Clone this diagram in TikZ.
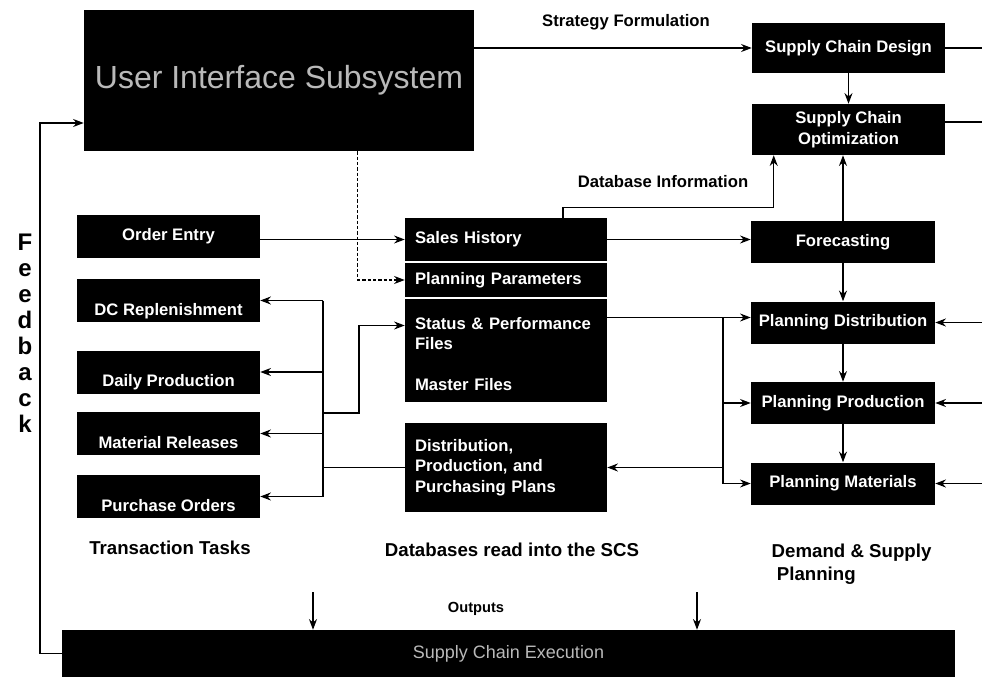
\documentclass[tikz,border=0pt]{standalone}
\usepackage{fontspec}
\setmainfont{Liberation Sans}
\usetikzlibrary{arrows.meta}
\usetikzlibrary{calc}
\newcommand{\boxfont}{\fontsize{12.5}{15.5}\selectfont\bfseries}
\tikzset{box/.style = {fill=black, text=white, font=\boxfont, inner sep=0pt,
                       minimum width=138pt, minimum height=31.5pt},
         leftbox/.style = {box, minimum width=137.25pt, minimum height=32.25pt},
         lowered/.style = {text height=24.8pt, text depth=3pt},
         field/.style = {box, align=left, text width=136.5pt, inner xsep=7.5pt},
         faint/.style = {text=gray!55, font=\fontsize{#1}{#1}\selectfont},
         tag/.style = {font=\boxfont},
         group/.style = {font=\fontsize{14}{17.5}\selectfont\bfseries},
         flow/.style = {-{Stealth[length=8pt,width=6pt]}, line width=0.8pt},
         link/.style = {line width=0.8pt}}
\begin{document}
\begin{tikzpicture}[x=0.75pt, y=-0.75pt]
      \useasboundingbox (0, 0) rectangle (982, 681);

      \node [box, faint=24, minimum width=292.5pt, minimum height=105.75pt] (ui) at (279, 80.5) {User Interface Subsystem};
      \node [box, faint=13.5, minimum width=669.75pt, minimum height=35.25pt] (bar) at (508.5, 653.5) {Supply Chain Execution};

      \node [box, minimum width=144.75pt, minimum height=37.5pt] (scd) at (848.5, 48) {Supply Chain Design};
      \node [box, minimum width=144.75pt, minimum height=38.25pt, align=center] (sco) at (848.5, 129.5) {Supply Chain\\Optimization};
      \node [box] (fc) at (843, 242) {Forecasting};
      \node [box] (pd) at (843, 322.5) {Planning Distribution};
      \node [box] (pp) at (843, 403) {Planning Production};
      \node [box] (pm) at (843, 483.5) {Planning Materials};

      \node [leftbox] (oe) at (168.5, 236.5) {Order Entry};
      \node [leftbox, lowered] (dc) at (168.5, 300.5) {DC Replenishment};
      \node [leftbox, lowered] (dp) at (168.5, 372) {Daily Production};
      \node [leftbox, lowered] (mr) at (168.5, 433.5) {Material Releases};
      \node [leftbox, lowered] (po) at (168.5, 496.5) {Purchase Orders};

      \node [field, minimum height=32.25pt] (sales) at (506, 239.5) {Sales History};
      \node [field, minimum height=25.5pt] (params) at (506, 280) {Planning Parameters};
      \node [field, minimum height=51.75pt] (status) at (506, 333.5) {Status \& Performance\\Files};
      \node [field, minimum height=25.5pt] (master) at (506, 385) {Master Files};
      \node [field, minimum height=66.75pt] (plans) at (506, 467.5) {Distribution,\\Production, and\\Purchasing Plans};

      \node [tag] (strat) at (626, 22) {Strategy Formulation};
      \node [tag] (dbinfo) at (663, 182) {Database Information};
      \node [font=\fontsize{11}{13}\selectfont\bfseries] (outputs) at (476, 609) {Outputs};
      \node [group] (trans) at (170, 548) {Transaction Tasks};
      \node [group] (dbs) at (512, 550) {Databases read into the SCS};
      \node [group, align=left, anchor=west] (dsp) at (767, 564) {Demand \& Supply\\\ Planning};
      \node [font=\fontsize{18}{19.5}\selectfont\bfseries, align=center] (fb) at (25, 333) {F\\e\\e\\d\\b\\a\\c\\k};

      \coordinate (busL) at (323, 0);
      \coordinate (busR) at (723, 0);
      \coordinate (tap) at (323, 413);
      \coordinate (rise) at (359, 413);
      \coordinate (fbtop) at (40, 123);
      \coordinate (out1) at (313, 592);
      \coordinate (out2) at (697, 592);
      \coordinate (edgeR) at (982, 0);

      \draw [flow] (ui.east |- scd.west) -- (scd.west);
      \draw [link] (scd.east) -- (scd.east -| edgeR);
      \draw [link] ([yshift=5.6pt]sco.east) -- ([yshift=5.6pt]sco.east -| edgeR);
      \draw [flow] (scd) -- (scd.south |- sco.north);
      \draw [flow] (fc.north) -- (fc.north |- sco.south);
      \draw [flow] (fc) -- (pd);
      \draw [flow] (pd) -- (pp);
      \draw [flow] (pp) -- (pm);

      \draw [flow] ($(sales.north)+(57, 0)$) -- ++(0, -10) -| ($(sco.south west)+(22, 0)$);
      \draw [flow] (oe.east |- sales.west) -- (sales.west);
      \draw [flow] (sales.east) -- (sales.east -| fc.west);
      \draw [flow, dash pattern=on 2.5pt off 1.5pt] ($(ui.south west)+(274, 0)$) |- (params.west);

      \draw [flow] (tap) -- (rise) |- ([yshift=6pt]status.west);
      \draw [link] (plans.west) -- (plans.west -| busL);
      \draw [link] (busL |- dc.east) -- (busL |- po.east);
      \foreach \t in {dc, dp, mr, po}
        \draw [flow] (busL |- \t.east) -- (\t.east);

      \draw [flow] ([yshift=12pt]status.east) -- ([yshift=12pt]status.east -| pd.west);
      \draw [link] ([yshift=12pt]status.east -| busR) -- (busR |- pm.west);
      \foreach \t in {pp, pm}
        \draw [flow] (busR |- \t.west) -- (\t.west);
      \draw [flow] (busR |- plans.east) -- (plans.east);
      \foreach \t in {pd, pp, pm}
        \draw [flow] (edgeR |- \t.east) -- (\t.east);

      \draw [flow] (out1) -- (out1 |- bar.north);
      \draw [flow] (out2) -- (out2 |- bar.north);
      \draw [flow] (bar.west) -| (fbtop) -- (fbtop -| ui.west);
\end{tikzpicture}
\end{document}
